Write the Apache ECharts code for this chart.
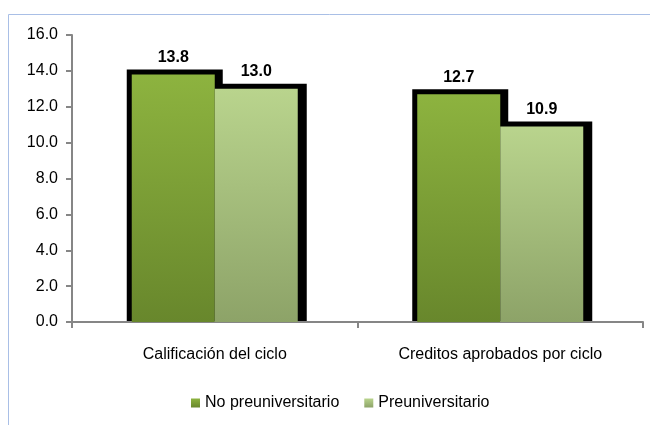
<!DOCTYPE html>
<html>
<head>
<meta charset="utf-8">
<script src="https://cdn.jsdelivr.net/npm/echarts@6/dist/echarts.min.js"></script>
<style>
  html, body { margin: 0; padding: 0; background: #fff; }
  #chart { width: 650px; height: 425px; }
</style>
</head>
<body>
<div id="chart"></div>
<script>
// datos
var categorias = ['Calificación del ciclo', 'Creditos aprobados por ciclo'];
var noPreuniversitario = [13.8, 12.7];
var preuniversitario = [13.0, 10.9];
var yTicks = { min: 0, max: 16, interval: 2 };

var chart = echarts.init(document.getElementById('chart'));
var fuente = '"Liberation Sans", Arial, sans-serif';
var anchoBarra = 83;

function degradado(arriba, abajo) {
  return new echarts.graphic.LinearGradient(0, 0, 0, 1, [
    { offset: 0, color: arriba },
    { offset: 1, color: abajo }
  ]);
}

var colorNo = degradado('#8db33f', '#68872c');
var colorPre = degradado('#b9d48d', '#8da368');

// sombra negra detras de cada grupo de barras
var datosSombra = categorias.map(function (c, i) {
  return [i, noPreuniversitario[i], preuniversitario[i]];
});

function dibujarSombra(params, api) {
  var i = api.value(0);
  var base = api.coord([i, 0]);
  var cx = base[0], y0 = base[1];
  var ta = api.coord([i, api.value(1)])[1];
  var tb = api.coord([i, api.value(2)])[1];
  var w = anchoBarra;
  return {
    type: 'group',
    children: [
      { type: 'rect', shape: { x: cx - w - 5, y: ta - 5, width: w + 13, height: y0 - ta + 4 }, style: { fill: '#000' } },
      { type: 'rect', shape: { x: cx - 5, y: tb - 5, width: w + 14, height: y0 - tb + 4 }, style: { fill: '#000' } }
    ]
  };
}

var etiqueta = {
  show: true,
  position: 'top',
  distance: 9,
  color: '#000',
  fontWeight: 'bold',
  fontSize: 16,
  fontFamily: fuente,
  formatter: function (p) { return p.value.toFixed(1); }
};

var option = {
  animation: false,
  textStyle: { fontFamily: fuente },
  graphic: [{
    type: 'rect',
    shape: { x: 8.5, y: 14.5, width: 700, height: 500 },
    style: { fill: 'none', stroke: '#a9bfe6', lineWidth: 1 },
    silent: true,
    z: -1
  }],
  grid: { left: 72, right: 7, top: 35, bottom: 103, containLabel: false },
  legend: {
    bottom: 9,
    left: 186,
    itemWidth: 9,
    itemHeight: 9,
    itemGap: 25,
    icon: 'rect',
    textStyle: { fontSize: 16, color: '#000', fontFamily: fuente },
    data: ['No preuniversitario', 'Preuniversitario']
  },
  xAxis: {
    type: 'category',
    data: categorias,
    axisLine: { lineStyle: { color: '#868686', width: 2 } },
    axisTick: { show: true, length: 6, lineStyle: { color: '#868686', width: 2 } },
    axisLabel: { color: '#000', fontSize: 16, margin: 25, fontFamily: fuente }
  },
  yAxis: {
    type: 'value',
    min: yTicks.min,
    max: yTicks.max,
    interval: yTicks.interval,
    splitLine: { show: false },
    axisLine: { show: true, lineStyle: { color: '#868686', width: 2 } },
    axisTick: { show: true, length: 6, lineStyle: { color: '#868686', width: 2 } },
    axisLabel: {
      color: '#000',
      fontSize: 16,
      margin: 14,
      fontFamily: fuente,
      formatter: function (v) { return v.toFixed(1); }
    }
  },
  series: [
    {
      type: 'custom',
      silent: true,
      z: 1,
      data: datosSombra,
      encode: { x: 0, y: [1, 2] },
      renderItem: dibujarSombra
    },
    {
      name: 'No preuniversitario',
      type: 'bar',
      data: noPreuniversitario,
      barWidth: anchoBarra,
      barGap: '0%',
      z: 3,
      itemStyle: { color: colorNo },
      label: etiqueta
    },
    {
      name: 'Preuniversitario',
      type: 'bar',
      data: preuniversitario,
      barWidth: anchoBarra,
      barGap: '0%',
      z: 3,
      itemStyle: { color: colorPre },
      label: etiqueta
    }
  ]
};

chart.setOption(option);
</script>
</body>
</html>
